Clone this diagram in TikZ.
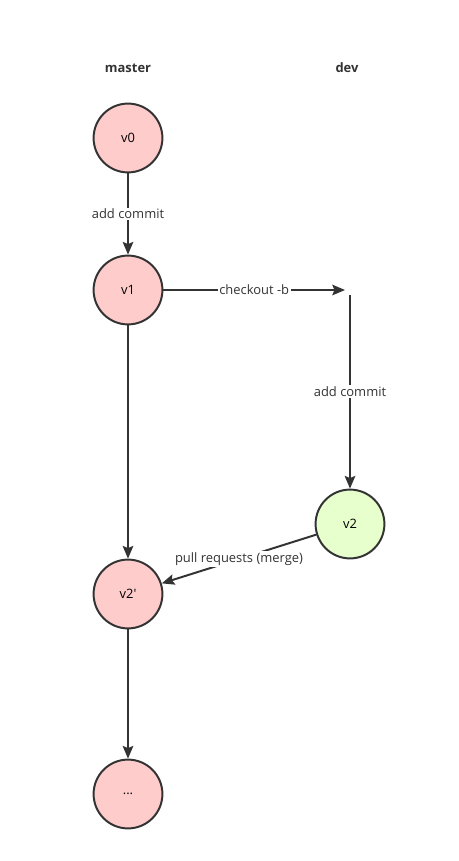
\documentclass[tikz,border=0pt]{standalone}
\usepackage{fontspec}
\setmainfont{Open Sans}
\usepackage{tikz}
\usetikzlibrary{arrows.meta}

\definecolor{lineC}{HTML}{333333}
\definecolor{masterC}{HTML}{FFCCCC}
\definecolor{devC}{HTML}{E6FFCC}

\begin{document}
\begin{tikzpicture}[x=0.025cm,y=-0.025cm,line width=1.4pt,
  font=\fontsize{9.2}{11}\selectfont,
  commit/.style={circle,draw=lineC,fill=masterC,minimum size=1.72cm,inner sep=0pt},
  devcommit/.style={commit,fill=devC},
  branch/.style={font=\fontsize{9.2}{11}\selectfont\bfseries,text=lineC},
  flow/.style={draw=lineC,-{Stealth[length=9pt,width=7.5pt,inset=1.5pt]}},
  tag/.style={fill=white,inner sep=1pt,text=lineC}]

\useasboundingbox (0,0) rectangle (459,861);

\node [branch] (master) at (128,68) {master};
\node [branch] (dev) at (347,68) {dev};

\node [commit] (v0) at (128,138) {v0};
\node [commit] (v1) at (128,290) {v1};
\node [commit] (v2m) at (128,594) {v2\textquotesingle};
\node [commit] (vn) at (128,794) {...};
\node [devcommit] (v2) at (350,524) {v2};

\coordinate (cb) at (345,290);
\coordinate (db) at (350,295);

\draw [flow] (v0) -- node[tag] {add commit} (v1);
\draw [flow] (v1) -- node[tag] {checkout -b} (cb);
\draw [flow] (db) -- node[tag] {add commit} (v2);
\draw [flow] (v1) -- (v2m);
\draw [flow] (v2) -- node[tag] {pull requests (merge)} (v2m);
\draw [flow] (v2m) -- (vn);

\end{tikzpicture}
\end{document}
